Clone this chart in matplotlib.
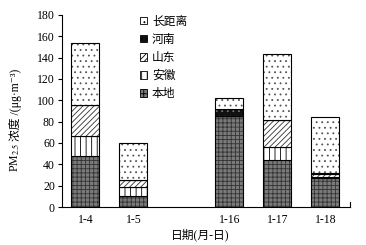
import matplotlib
matplotlib.use("Agg")
import matplotlib.pyplot as plt
from matplotlib.patches import Patch

plt.rcParams['font.family'] = ['Liberation Serif', 'Noto Sans CJK SC', 'DejaVu Sans']
plt.rcParams['mathtext.fontset'] = 'stix'
plt.rcParams['hatch.linewidth'] = 0.6

dates = ["1-4", "1-5", "1-16", "1-17", "1-18"]
positions = [0, 1, 3, 4, 5]
series_names = ["本地", "安徽", "山东", "河南", "长距离"]
local = [47.5, 10, 85, 44, 27]
anhui = [19, 9, 0, 12, 1]
shandong = [29, 6, 0, 26, 3]
henan = [0, 0, 7, 0, 1]
longdist = [58, 35, 10, 61, 52]
series = [local, anhui, shandong, henan, longdist]

styles = [
    dict(facecolor="#7a7a7a", hatch="++++", hcolor="#333333"),
    dict(facecolor="white", hatch="|||", hcolor="black"),
    dict(facecolor="white", hatch="//////", hcolor="#333333"),
    dict(facecolor="#111111", hatch="...", hcolor="#777777"),
    dict(facecolor="white", hatch="...", hcolor="#555555"),
]

fig = plt.figure(figsize=(3.66, 2.45), dpi=100)
ax = fig.add_axes([0.169, 0.155, 0.787, 0.784])

width = 0.58
bottom = [0] * len(dates)
for vals, st in zip(series, styles):
    ax.bar(positions, vals, width, bottom=bottom, color=st["facecolor"],
           hatch=st["hatch"], edgecolor=st["hcolor"], linewidth=0)
    ax.bar(positions, vals, width, bottom=bottom, fill=False,
           edgecolor="black", linewidth=0.8)
    bottom = [b + v for b, v in zip(bottom, vals)]

ax.set_xlim(-0.49, 5.51)
ax.set_ylim(0, 180)
ax.set_yticks(range(0, 181, 20))
ax.set_xticks(positions)
ax.set_xticklabels(dates, fontsize=8.5)
ax.tick_params(axis='x', length=0, pad=5)
ax.tick_params(axis='y', direction='out', length=3, width=0.8, labelsize=8.5, pad=2)
for s in ["top", "right"]:
    ax.spines[s].set_visible(False)
for s in ["left", "bottom"]:
    ax.spines[s].set_linewidth(0.8)
ax.plot([1, 1], [0, 0.025], transform=ax.transAxes, color="black", lw=0.8, clip_on=False)

ax.set_xlabel("日期(月-日)", fontsize=8.5)
ax.xaxis.set_label_coords(0.48, -0.11)

# y label in two pieces (mathtext cannot render CJK)
t1 = fig.text(15 / 366, 1 - 172 / 245, "PM$_{2.5}$", rotation=90, fontsize=8.5,
              ha="center", va="bottom")
fig.canvas.draw()
bb = t1.get_window_extent()
y_top = bb.y1 / fig.bbox.height
fig.text(15 / 366 + 0.002, y_top + 0.008, "浓度 /(μg·m⁻³)", rotation=90, fontsize=8.5,
         ha="center", va="bottom")

handles = [Patch(facecolor=st["facecolor"], hatch=st["hatch"], edgecolor="black", linewidth=0.6)
           for st in styles]
leg = fig.legend(handles[::-1], series_names[::-1], loc="upper left",
                 bbox_to_anchor=(0.37, 0.955), frameon=False, fontsize=8.5,
                 handlelength=0.6, handleheight=0.6, handletextpad=0.4,
                 labelspacing=0.52, borderaxespad=0)

fig.savefig("out.png", dpi=100)
